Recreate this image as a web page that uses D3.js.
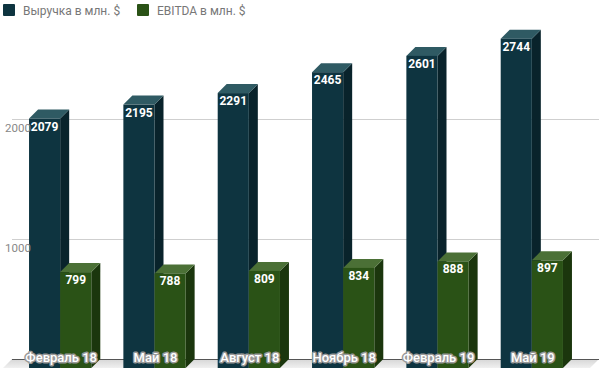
<!DOCTYPE html>
<meta charset="utf-8">
<head>
  <title>Выручка и EBITDA</title>
</head>

<style>
body {
  margin: 0;
  background: #fff;
  font-family: Roboto, "Noto Sans", sans-serif;
}
</style>

<body>
  <div id="content">
    <svg width="599" height="369"></svg>
  </div>

  <script src="https://cdnjs.cloudflare.com/ajax/libs/d3/7.8.5/d3.min.js"></script>

  <script>
var categories = ['Февраль 18', 'Май 18', 'Август 18', 'Ноябрь 18', 'Февраль 19', 'Май 19'];
var revenue = [2079, 2195, 2291, 2465, 2601, 2744];
var ebitda = [799, 788, 809, 834, 888, 897];
var yTicks = [1000, 2000];
var seriesNames = ['Выручка в млн. $', 'EBITDA в млн. $'];

var colors = [
  {front: '#0e3440', top: '#2f5a63', side: '#09232b'},
  {front: '#2a5216', top: '#4b7036', side: '#1b360d'}
];

var svg = d3.select('#content svg');

// 3d depth offset
var dx = 9, dy = 9;

var x = d3.scaleBand()
  .domain(categories)
  .range([13, 579])
  .paddingInner(0.34)
  .paddingOuter(0.17);

var xs = d3.scaleBand()
  .domain([0, 1])
  .range([0, x.bandwidth()]);

// front plane
var y = d3.scaleLinear()
  .domain([0, 3000])
  .range([368, 8]);

// Back wall grid
svg.append('g').selectAll('line')
  .data(yTicks)
  .join('line')
  .attr('x1', 12)
  .attr('x2', 599)
  .attr('y1', d => y(d) - dy + 0.5)
  .attr('y2', d => y(d) - dy + 0.5)
  .attr('stroke', '#cfcfcf')
  .attr('stroke-width', 1);

// floor
var grad = svg.append('defs').append('linearGradient')
  .attr('id', 'floor')
  .attr('x1', 0).attr('y1', 0).attr('x2', 0).attr('y2', 1);
grad.append('stop').attr('offset', 0).attr('stop-color', '#d6d6d6');
grad.append('stop').attr('offset', 1).attr('stop-color', '#f0f0f0');

svg.append('polygon')
  .attr('points', [[12, y(0) - dy], [599, y(0) - dy], [599 - dx, y(0)], [12 - dx, y(0)]].join(' '))
  .attr('fill', 'url(#floor)');

svg.append('line')
  .attr('x1', 12).attr('x2', 599)
  .attr('y1', y(0) - dy + 0.5).attr('y2', y(0) - dy + 0.5)
  .attr('stroke', '#555')
  .attr('stroke-width', 1);

// bars
var rows = [];
categories.forEach(function(c, i) {
  rows.push({cat: c, s: 0, v: revenue[i]});
  rows.push({cat: c, s: 1, v: ebitda[i]});
});

var bar = svg.append('g').selectAll('g')
  .data(rows)
  .join('g');

function bx(d) { return x(d.cat) + xs(d.s); }
var bw = xs.bandwidth();

bar.append('polygon')
  .attr('points', function(d) {
    var x0 = bx(d) + bw, t = y(d.v), b = y(0);
    return [[x0, t], [x0 + dx, t - dy], [x0 + dx, b - dy], [x0, b]].join(' ');
  })
  .attr('fill', d => colors[d.s].side);

bar.append('polygon')
  .attr('points', function(d) {
    var x0 = bx(d), t = y(d.v);
    return [[x0, t], [x0 + dx, t - dy], [x0 + bw + dx, t - dy], [x0 + bw, t]].join(' ');
  })
  .attr('fill', d => colors[d.s].top);

bar.append('rect')
  .attr('x', d => bx(d))
  .attr('y', d => y(d.v))
  .attr('width', bw)
  .attr('height', d => y(0) - y(d.v))
  .attr('fill', d => colors[d.s].front);

bar.append('text')
  .attr('x', d => bx(d) + bw / 2)
  .attr('y', d => y(d.v) + 12)
  .attr('text-anchor', 'middle')
  .attr('font-size', 12)
  .attr('font-weight', 'bold')
  .attr('fill', '#fff')
  .text(d => d.v);

// value axis labels (drawn over the bars)
svg.append('g').selectAll('text')
  .data(yTicks)
  .join('text')
  .attr('x', 5)
  .attr('y', d => y(d) + 4)
  .attr('font-size', 11.5)
  .attr('fill', '#888')
  .text(d => d);

// category labels
svg.append('g').selectAll('text')
  .data(categories)
  .join('text')
  .attr('x', d => x(d) + x.bandwidth() / 2 + 1)
  .attr('y', 362)
  .attr('text-anchor', 'middle')
  .attr('font-size', 13)
  .attr('font-weight', 500)
  .attr('fill', '#fff')
  .attr('stroke', '#999')
  .attr('stroke-width', 3)
  .attr('stroke-linejoin', 'round')
  .attr('paint-order', 'stroke')
  .text(d => d);

// legend
var legend = svg.append('g').selectAll('g')
  .data(seriesNames)
  .join('g')
  .attr('transform', (d, i) => 'translate(' + (3 + i * 134) + ',4)');

legend.append('rect')
  .attr('width', 12)
  .attr('height', 12)
  .attr('rx', 1)
  .attr('fill', (d, i) => colors[i].front);

legend.append('text')
  .attr('x', 20)
  .attr('y', 10.5)
  .attr('font-size', 12)
  .attr('fill', '#777')
  .text(d => d);
  </script>
</body>
</html>
